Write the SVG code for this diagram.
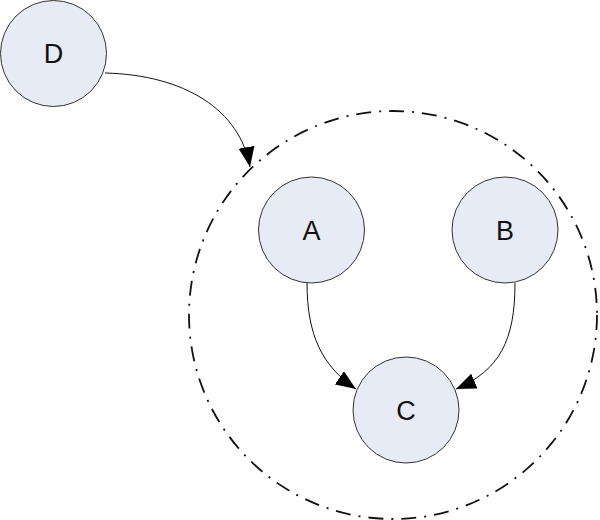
<svg xmlns="http://www.w3.org/2000/svg" width="600" height="520" viewBox="0 0 600 520">
<style>
.node circle{fill:#e6ebf6;stroke:#333;stroke-width:1}
.node text{font-family:"Liberation Sans",Arial,sans-serif;font-size:27px;fill:#111;text-anchor:middle}
.edge{fill:none;stroke:#111;stroke-width:1}
.group{fill:none;stroke:#111;stroke-width:1.8;stroke-dasharray:15 8 2 8}
</style>
<defs>
<marker id="arr" markerUnits="userSpaceOnUse" markerWidth="21" markerHeight="16" refX="20" refY="8" orient="auto">
<path d="M0,0 L20,8 L0,16 Z" fill="#000"/>
</marker>
</defs>
<rect width="600" height="520" fill="#fff"/>
<g id="group-boundary"><circle class="group" cx="393" cy="315" r="204"/></g>
<g id="D" class="node"><circle cx="53.5" cy="53.5" r="53"/><text x="53.5" y="63">D</text></g>
<g id="A" class="node"><circle cx="311.5" cy="230" r="53"/><text x="311.5" y="239.5">A</text></g>
<g id="B" class="node"><circle cx="505" cy="230" r="53"/><text x="505" y="239.5">B</text></g>
<g id="C" class="node"><circle cx="406" cy="410" r="53"/><text x="406" y="419.5">C</text></g>
<g id="connectors">
<path class="edge" d="M105,73 C185,75 240,110 250,167" marker-end="url(#arr)"/>
<path class="edge" d="M307,283 C307,335 322,366 356,389" marker-end="url(#arr)"/>
<path class="edge" d="M515,283 C515,340 500,370 456,389" marker-end="url(#arr)"/>
</g>
</svg>
